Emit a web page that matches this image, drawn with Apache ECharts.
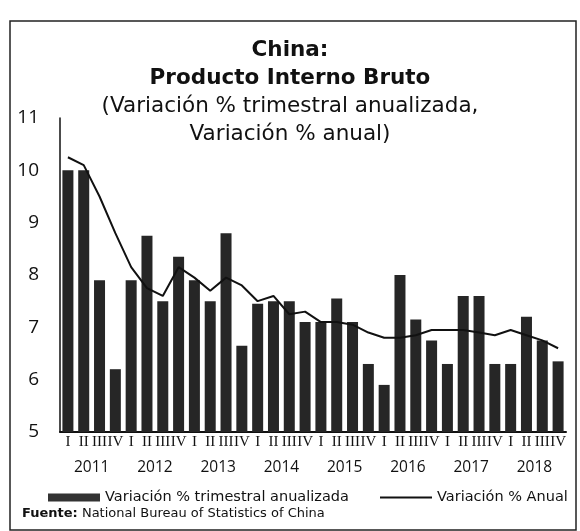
<!DOCTYPE html>
<html><head><meta charset="utf-8">
<script src="https://cdn.jsdelivr.net/npm/echarts@6/dist/echarts.min.js"></script>
<style>html,body{margin:0;padding:0;background:#fff}#c{width:580px;height:531px}</style>
</head><body><div id="c"></div>
<script>
const quarters = ["I","II","III","IV","I","II","III","IV","I","II","III","IV","I","II","III","IV","I","II","III","IV","I","II","III","IV","I","II","III","IV","I","II","III","IV"];
const years = ["2011","2012","2013","2014","2015","2016","2017","2018"];
const qoqAnnualized = [10.0,10.0,7.9,6.2,7.9,8.75,7.5,8.35,7.9,7.5,8.8,6.65,7.45,7.5,7.5,7.1,7.1,7.55,7.1,6.3,5.9,8.0,7.15,6.75,6.3,7.6,7.6,6.3,6.3,7.2,6.75,6.35];
const yoy = [10.25,10.1,9.5,8.8,8.15,7.75,7.6,8.15,7.95,7.7,7.95,7.8,7.5,7.6,7.25,7.3,7.1,7.1,7.05,6.9,6.8,6.8,6.85,6.95,6.95,6.95,6.9,6.85,6.95,6.85,6.75,6.6];
const yTicks = [5,11,1];

const chart = echarts.init(document.getElementById('c'));
const F = '"Open Sans", sans-serif';
const D = '"DejaVu Sans", sans-serif';
chart.setOption({
  animation:false,
  title:{
    text:'China:\nProducto Interno Bruto',
    subtext:'(Variación % trimestral anualizada,\nVariación % anual)',
    left:'center', top:31, itemGap:0,
    textStyle:{fontFamily:D,fontSize:21.5,fontWeight:'bold',color:'#111',lineHeight:28},
    subtextStyle:{fontFamily:D,fontSize:21.5,color:'#111',lineHeight:28}
  },
  legend:[{
    left:43, top:485,
    textStyle:{fontFamily:D,fontSize:14.5,color:'#111'},
    data:[{name:'Variación % trimestral anualizada', icon:'rect', itemStyle:{color:'#333'}}],
    itemWidth:52, itemHeight:8
  },{
    left:375, top:485,
    textStyle:{fontFamily:D,fontSize:14.5,color:'#111'},
    data:[{name:'Variación % Anual', icon:'path://M0,5L56,5L56,7L0,7Z', itemStyle:{color:'#111'}}],
    itemWidth:52, itemHeight:8
  }],
  grid:{left:60, right:14, top:118, bottom:99},
  xAxis:[
    {type:'category', data:quarters, position:'bottom',
     axisLine:{lineStyle:{color:'#111',width:2}}, axisTick:{show:false},
     axisLabel:{interval:0, fontFamily:'"Liberation Serif", serif', fontSize:15, color:'#111', margin:3}},
    {type:'category', data:years, position:'bottom', offset:24, gridIndex:0,
     axisLine:{show:false}, axisTick:{show:false},
     axisLabel:{interval:0, fontFamily:F, fontSize:15.5, color:'#111', margin:4}}
  ],
  yAxis:{type:'value', min:yTicks[0], max:yTicks[1], interval:yTicks[2],
    axisLine:{show:true, lineStyle:{color:'#111',width:1.5}}, axisTick:{show:false},
    splitLine:{show:false},
    axisLabel:{fontFamily:F, fontSize:19, color:'#111', margin:21}},
  series:[
    {name:'Variación % trimestral anualizada', type:'bar', data:qoqAnnualized, xAxisIndex:0,
     barWidth:11, itemStyle:{color:'#262626'}},
    {name:'Variación % Anual', type:'line', data:yoy, xAxisIndex:0, symbol:'none',
     lineStyle:{color:'#111', width:2}, itemStyle:{color:'#111'}}
  ],
  graphic:[
    {type:'rect', shape:{x:10,y:21,width:566,height:509}, style:{fill:'none',stroke:'#222',lineWidth:1.5}, silent:true},
    {type:'text', left:22, top:507, style:{
      text:'{b|Fuente:} National Bureau of Statistics of China',
      rich:{b:{fontWeight:'bold',fontFamily:D,fontSize:13,fill:'#111'}},
      fontFamily:D, fontSize:13, fill:'#111'}}
  ]
});
</script></body></html>
